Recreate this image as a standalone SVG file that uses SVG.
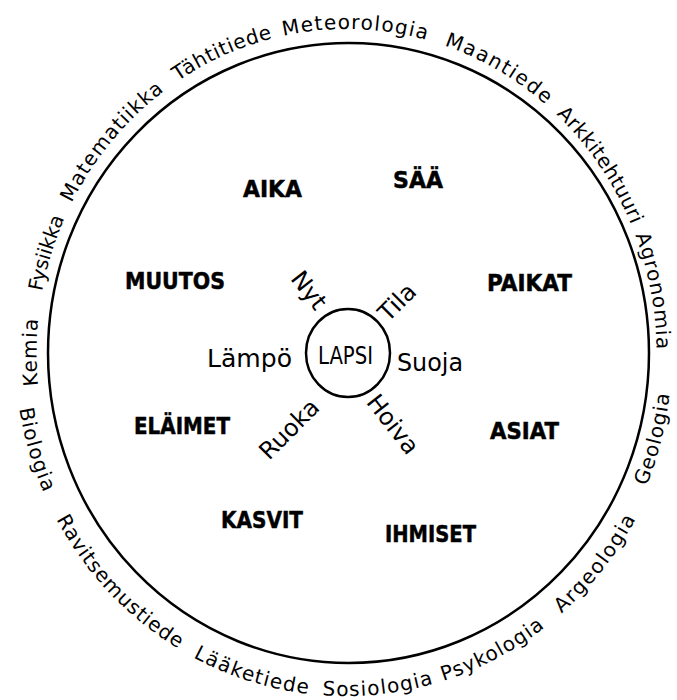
<svg xmlns="http://www.w3.org/2000/svg" width="677" height="700" viewBox="0 0 677 700">
<style>
.ring{fill:none;stroke:#000;stroke-width:2.5}
.arc{font-family:"DejaVu Sans",sans-serif;font-size:20px;fill:#000;text-anchor:middle}
.big{font-family:"DejaVu Sans",sans-serif;font-size:23px;font-weight:bold;fill:#000;stroke:#000;stroke-width:0.5;text-anchor:middle}
.mid{font-family:"DejaVu Sans",sans-serif;font-size:24px;fill:#000;text-anchor:middle}
</style>
<defs>
<path id="topArc" d="M 55.2 463.8 A 310 324 0 1 1 637.8 463.8"/>
<path id="botArc" d="M 26.3 264.2 A 331 343 0 1 0 665.7 264.2"/>
<path id="botArcR" d="M 31.1 264.2 A 326 343 0 1 0 660.9 264.2"/>
</defs>
<rect width="677" height="700" fill="#fff"/>
<g id="outer">
<ellipse class="ring" cx="348.5" cy="353" rx="300.5" ry="310"/>
</g>
<g id="ring-labels">
<text class="arc" letter-spacing="1.1"><textPath href="#topArc" startOffset="114">Kemia</textPath></text>
<text class="arc" letter-spacing="-0.2"><textPath href="#topArc" startOffset="213">Fysiikka</textPath></text>
<text class="arc" letter-spacing="1.0"><textPath href="#topArc" startOffset="342">Matematiikka</textPath></text>
<text class="arc" letter-spacing="0.6"><textPath href="#topArc" startOffset="484">Tähtitiede</textPath></text>
<text class="arc" letter-spacing="1.3"><textPath href="#topArc" startOffset="620">Meteorologia</textPath></text>
<text class="arc" letter-spacing="1.6"><textPath href="#topArc" startOffset="770">Maantiede</textPath></text>
<text class="arc" letter-spacing="0.3"><textPath href="#topArc" startOffset="910">Arkkitehtuuri</textPath></text>
<text class="arc" letter-spacing="1.0"><textPath href="#topArc" startOffset="1047">Agronomia</textPath></text>
<text class="arc" letter-spacing="1.1"><textPath href="#botArc" startOffset="190">Biologia</textPath></text>
<text class="arc" letter-spacing="0.9"><textPath href="#botArc" startOffset="353">Ravitsemustiede</textPath></text>
<text class="arc" letter-spacing="1.3"><textPath href="#botArc" startOffset="521">Lääketiede</textPath></text>
<text class="arc" letter-spacing="1.2"><textPath href="#botArc" startOffset="652">Sosiologia</textPath></text>
<text class="arc" letter-spacing="1.1"><textPath href="#botArc" startOffset="776">Psykologia</textPath></text>
<text class="arc" letter-spacing="1.5"><textPath href="#botArc" startOffset="916">Argeologia</textPath></text>
<text class="arc" letter-spacing="1.0"><textPath href="#botArcR" startOffset="1052">Geologia</textPath></text>
</g>
<g id="topics">
<text class="big" x="272.5" y="197" textLength="59" lengthAdjust="spacingAndGlyphs">AIKA</text>
<text class="big" x="418" y="188" textLength="50" lengthAdjust="spacingAndGlyphs">SÄÄ</text>
<text class="big" x="175" y="289" textLength="100" lengthAdjust="spacingAndGlyphs">MUUTOS</text>
<text class="big" x="529.5" y="291" textLength="85" lengthAdjust="spacingAndGlyphs">PAIKAT</text>
<text class="big" x="182" y="434" textLength="96" lengthAdjust="spacingAndGlyphs">ELÄIMET</text>
<text class="big" x="524.5" y="439" textLength="69" lengthAdjust="spacingAndGlyphs">ASIAT</text>
<text class="big" x="262" y="528" textLength="82" lengthAdjust="spacingAndGlyphs">KASVIT</text>
<text class="big" x="430.5" y="542" textLength="91" lengthAdjust="spacingAndGlyphs">IHMISET</text>
</g>
<g id="lapsi">
<ellipse class="ring" cx="348" cy="353" rx="42" ry="44"/>
<text class="mid" x="345.5" y="364" font-size="23" textLength="55" lengthAdjust="spacingAndGlyphs">LAPSI</text>
</g>
<g id="needs">
<text class="mid" x="249.5" y="367" textLength="85" lengthAdjust="spacingAndGlyphs">Lämpö</text>
<text class="mid" x="430" y="371" textLength="66" lengthAdjust="spacingAndGlyphs">Suoja</text>
<text class="mid" transform="translate(308 291) rotate(52)" y="7">Nyt</text>
<text class="mid" transform="translate(398 303) rotate(-45)" y="7">Tila</text>
<text class="mid" transform="translate(290 430) rotate(-45)" y="7">Ruoka</text>
<text class="mid" transform="translate(392 425) rotate(52)" y="7">Hoiva</text>
</g>
</svg>
